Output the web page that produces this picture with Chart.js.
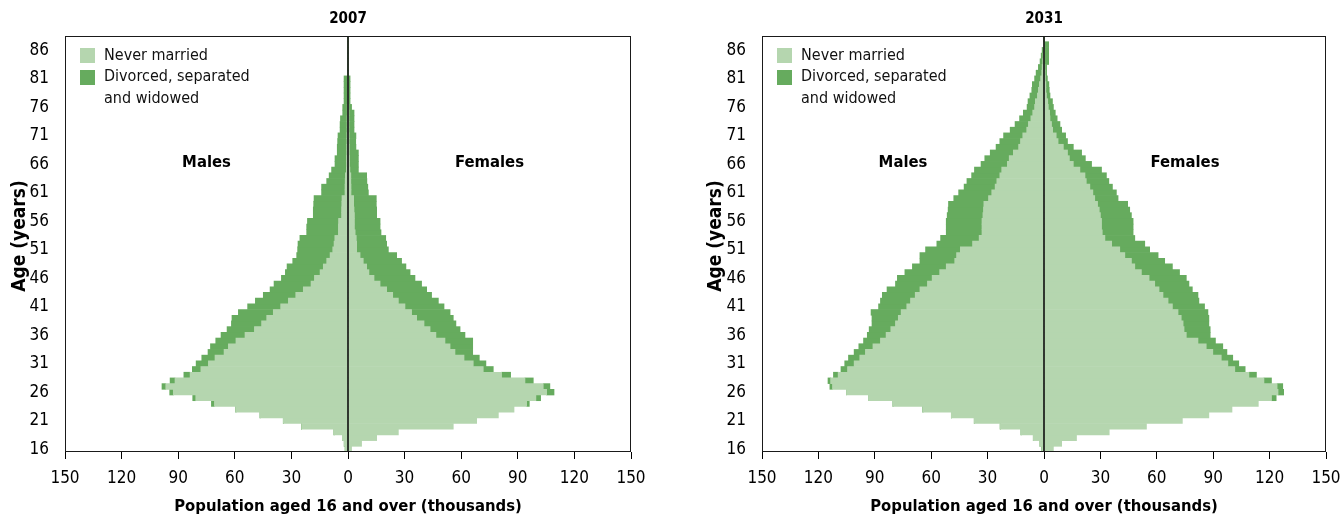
<!DOCTYPE html>
<html>
<head>
<meta charset="utf-8">
<script src="https://cdn.jsdelivr.net/npm/chart.js@4.4.1/dist/chart.umd.min.js"></script>
<style>
  body { margin: 0; background: #fff; }
  #wrap { position: relative; width: 1342px; height: 526px; }
  #left { position: absolute; left: 0; top: 0; }
  #right { position: absolute; left: 671px; top: 0; }
</style>
</head>
<body>
<div id="wrap">
  <canvas id="left" width="671" height="526"></canvas>
  <canvas id="right" width="671" height="526"></canvas>
</div>
<script>
// ages 16 .. 88, one bar row per single year of age
const ages = [];
for (let a = 16; a <= 88; a++) ages.push(a);

const xTicks = [-150, -120, -90, -60, -30, 0, 30, 60, 90, 120, 150];

// 2007, thousands
const males2007Never = [
  1.5, 2, 3, 7.4, 24.6, 34.3, 46.6, 59.4, 70.8, 80.7,
  92.6, 96.6, 91.7, 83.7, 78, 74, 70.5, 65.7, 63.4, 59.4,
  54.6, 49.6, 45.8, 43.1, 39.6, 35.7, 31.6, 27.7, 23.7, 19.6,
  17.8, 14.8, 13.1, 11.3, 9.5, 8.1, 7.4, 7, 5.1, 5.1,
  5, 3.4, 3.4, 3.3, 3.2, 1.6, 1.6, 1.5, 1.4, 0.9,
  0.8, 0.8, 0.7, 0.7, 0.6, 0.6, 0.5, 0.5, 0.5, 0.4,
  0.4, 0.3, 0.3, 0.3, 0.2, 0.2, 0, 0, 0, 0,
  0, 0, 0
];
const males2007Other = [
  0, 0, 0, 0, 0, 0, 0, 0, 1.6, 1.6,
  1.9, 2, 2.6, 3.3, 4.5, 6.5, 7, 8.5, 9.5, 10.7,
  12.7, 14.5, 16, 18.4, 18.5, 17.5, 17.5, 17.2, 17.6, 19.6,
  17.5, 18.4, 19.2, 18, 17.7, 18.6, 19.1, 18.5, 16.8, 16.8,
  16.5, 15, 15, 14.9, 14.8, 12.4, 12.4, 9.8, 8.6, 7.8,
  6.1, 6.1, 5, 5, 4.9, 4.7, 3.7, 3.7, 3.5, 2.4,
  2.4, 1.8, 1.8, 1.8, 1.9, 1.9, 0, 0, 0, 0,
  0, 0, 0
];
const females2007Never = [
  1.9, 7.2, 15.2, 26.7, 55.8, 68.2, 79.7, 88, 94.7, 99.6,
  105.3, 103.5, 93.8, 81.4, 71.7, 66.4, 61.5, 56.7, 54.1, 51.4,
  46.6, 43.5, 40.3, 36.4, 33.7, 30.2, 26.7, 23.7, 20.5, 17,
  13.8, 11.1, 9.9, 8.1, 6.4, 4.6, 4.6, 4.4, 3.8, 3.4,
  3.4, 3.4, 3.2, 3, 3, 1.6, 1.6, 1.5, 1.5, 1,
  0.8, 0.8, 0.7, 0.7, 0.6, 0.6, 0.5, 0.5, 0.5, 0.5,
  0.4, 0.3, 0.3, 0.3, 0.3, 0.3, 0, 0, 0, 0,
  0, 0, 0
];
const females2007Other = [
  0, 0, 0, 0, 0, 0, 0, 0, 1.4, 2.5,
  3.9, 3.5, 4.4, 4.8, 5.3, 6.7, 8.1, 9.4, 12, 14.7,
  15.4, 15.9, 16.9, 19.4, 20.4, 20.7, 21.2, 20.6, 21.2, 22,
  21.7, 21.8, 20.8, 20.3, 19.4, 16.8, 15.9, 15.6, 13.7, 13.6,
  13.6, 11.8, 12, 12, 12, 9.2, 8.9, 8.5, 8.4, 4.5,
  4.7, 4.7, 4.8, 3.5, 3.5, 3.6, 2.7, 2.7, 2.7, 2.7,
  1.5, 0.8, 0.8, 0.8, 0.8, 0.8, 0, 0, 0, 0,
  0, 0, 0
];

// 2031, thousands
const males2031Never = [
  1.2, 2.1, 5.7, 12.2, 23.3, 37.1, 49.3, 64.4, 80.3, 93.2,
  105, 112.5, 113.5, 109.5, 104.5, 101, 98, 95, 91, 87,
  84, 81.5, 79, 77.5, 76, 73, 71, 68.5, 66, 62,
  59.5, 55.5, 52, 47.5, 46.5, 44.5, 38, 34.5, 33, 33,
  33, 32.5, 32.2, 32, 29.5, 27.8, 26, 25.1, 23.5, 22.5,
  19.5, 18.5, 16.3, 13.5, 12.5, 11.3, 9.2, 8.3, 7, 6,
  5, 4.6, 3.5, 3, 2.5, 1.8, 1.2, 1, 0.7, 0.5,
  0.3, 0, 0
];
const males2031Other = [
  0, 0, 0, 0, 0, 0, 0, 0, 0, 0,
  0, 1.4, 1.4, 2.5, 3.5, 5, 6, 6, 7.5, 9,
  10, 11.5, 12.5, 14, 16, 15, 16, 17.5, 17.5, 17,
  18.5, 18.5, 18, 18.5, 19.5, 18.5, 19, 20.5, 19, 19,
  19, 19, 18.8, 18.8, 18.5, 17.6, 16.5, 15.9, 15, 14.5,
  14, 13, 12.3, 12, 11, 10.2, 8.8, 7.1, 6, 5,
  4, 3.9, 4, 3.5, 3.7, 3.2, 3, 2, 1.4, 1,
  0.7, 0, 0
];
const females2031Never = [
  5, 9.4, 17.3, 34.7, 54.5, 73.6, 87.7, 100, 114, 121,
  124.5, 124, 117, 109, 101.5, 97.8, 94.3, 89.8, 86.3, 81.9,
  75.7, 74.5, 74, 73, 71.3, 68.3, 66, 63.3, 61.2, 58.9,
  55.9, 51.8, 48.3, 46.5, 43, 40.3, 36, 32.4, 31, 30.6,
  30.6, 30, 29.4, 28.5, 27, 26, 24.4, 22.5, 21.8, 19.1,
  15.6, 13.5, 12.5, 10.3, 7.5, 6.5, 4.6, 4, 3.2, 3,
  2.3, 2, 1.3, 1, 1, 0.7, 0.6, 0.5, 0.3, 0.3,
  0.3, 0.2, 0
];
const females2031Other = [
  0, 0, 0, 0, 0, 0, 0, 0, 0, 2.5,
  3, 3, 4, 4, 5.5, 5.8, 6.1, 7.5, 8.8, 9.3,
  12.7, 13.9, 13.7, 14.7, 15.9, 17.1, 16.4, 18.6, 17.7, 18.2,
  19.8, 20.3, 20, 17.7, 17.7, 15.9, 17.6, 15.9, 16.4, 16.8,
  16.8, 16.5, 16.2, 16, 12.4, 12.5, 12, 12, 11.4, 11.5,
  9.7, 8.5, 7.5, 5.3, 5, 5, 4.8, 4.5, 3.8, 3,
  2.7, 2.5, 1.9, 1.8, 1.6, 1.1, 0.8, 0.9, 2.2, 2.2,
  2.2, 2.3, 0
];

const FONT = '"Liberation Sans Narrow", "DejaVu Sans Condensed", "Liberation Sans", sans-serif';
const LIGHT = '#b5d6af';
const DARK = '#66ab5e';

Chart.defaults.font.family = FONT;
Chart.defaults.font.size = 17;
Chart.defaults.color = '#000';

// year title, y title, frame, zero line, in-plot legend and sex labels
const overlay = {
  id: 'overlay',
  afterDatasetsDraw(chart, args, opts) {
    const { ctx, chartArea: a, scales: { x, y } } = chart;
    ctx.save();
    const x0 = Math.round(x.getPixelForValue(0));
    ctx.strokeStyle = '#000';
    ctx.lineWidth = 1.5;
    ctx.beginPath();
    ctx.moveTo(x0, a.top);
    ctx.lineTo(x0, a.bottom);
    ctx.stroke();

    ctx.lineWidth = 1;
    ctx.strokeStyle = '#1a1a1a';
    ctx.strokeRect(a.left + 0.5, a.top + 0.5, a.width - 1, a.height - 1);

    // year
    ctx.fillStyle = '#000';
    ctx.font = 'bold 15px ' + FONT;
    ctx.textAlign = 'center';
    ctx.textBaseline = 'middle';
    ctx.fillText(opts.year, (a.left + a.right) / 2, 19);

    // age axis title
    ctx.save();
    ctx.translate(opts.yTitleX, 236);
    ctx.rotate(-Math.PI / 2);
    ctx.font = 'bold 19px ' + FONT;
    ctx.fillText('Age (years)', 0, 0);
    ctx.restore();

    // legend
    ctx.fillStyle = LIGHT;
    ctx.fillRect(a.left + 15, a.top + 12, 15, 15);
    ctx.fillStyle = DARK;
    ctx.fillRect(a.left + 15, a.top + 34, 15, 15);
    ctx.fillStyle = '#111';
    ctx.font = '16px ' + FONT;
    ctx.textAlign = 'left';
    ctx.fillText('Never married', a.left + 39, a.top + 20);
    ctx.fillText('Divorced, separated', a.left + 39, a.top + 41);
    ctx.fillText('and widowed', a.left + 39, a.top + 63);

    // sex labels
    const yl = y.getPixelForValue(ages.indexOf(66)) - 2;
    ctx.font = 'bold 16.5px ' + FONT;
    ctx.textAlign = 'center';
    ctx.fillStyle = '#000';
    ctx.fillText('Males', x.getPixelForValue(-75), yl);
    ctx.fillText('Females', x.getPixelForValue(75), yl);
    ctx.restore();
  }
};

function makePyramid(id, year, mNever, mOther, fNever, fOther, yWidth, yTitleX, rightPad) {
  const neg = arr => arr.map(v => -v);
  new Chart(document.getElementById(id), {
    type: 'bar',
    data: {
      labels: ages,
      datasets: [
        { label: 'Never married', data: neg(mNever), backgroundColor: LIGHT },
        { label: 'Divorced, separated and widowed', data: neg(mOther), backgroundColor: DARK },
        { label: 'Never married', data: fNever, backgroundColor: LIGHT },
        { label: 'Divorced, separated and widowed', data: fOther, backgroundColor: DARK }
      ]
    },
    options: {
      indexAxis: 'y',
      responsive: false,
      animation: false,
      datasets: { bar: { categoryPercentage: 1, barPercentage: 1, borderWidth: 0, stack: 's' } },
      layout: { padding: { left: 0, right: rightPad, top: 36, bottom: 0 } },
      plugins: {
        legend: { display: false },
        tooltip: { enabled: false },
        title: { display: false },
        overlay: { year: year, yTitleX: yTitleX }
      },
      scales: {
        x: {
          stacked: true,
          min: -150,
          max: 150,
          afterBuildTicks: s => { s.ticks = xTicks.map(v => ({ value: v })); },
          afterFit: s => { s.height = 74; s.paddingLeft = 0; s.paddingRight = 0; },
          border: { display: false },
          grid: { drawOnChartArea: false, drawTicks: true, tickLength: 7, color: '#000', lineWidth: 1 },
          ticks: { padding: 9, callback: v => String(Math.abs(v)), font: { size: 17 } },
          title: {
            display: true,
            text: 'Population aged 16 and over (thousands)',
            font: { size: 16.5, weight: 'bold' },
            padding: { top: 0, bottom: 9 }
          }
        },
        y: {
          stacked: true,
          reverse: true,
          afterFit: s => { s.width = yWidth; },
          border: { display: false },
          grid: { display: false },
          ticks: {
            autoSkip: false,
            padding: 8,
            font: { size: 17 },
            callback: (v, i) => {
              const a = ages[i];
              return (a - 16) % 5 === 0 && a <= 86 ? String(a) : '';
            }
          },
          title: { display: false }
        }
      }
    },
    plugins: [overlay]
  });
}

makePyramid('left', '2007', males2007Never, males2007Other, females2007Never, females2007Other, 65, 20, 40);
makePyramid('right', '2031', males2031Never, males2031Other, females2031Never, females2031Other, 91, 45, 16);
</script>
</body>
</html>
